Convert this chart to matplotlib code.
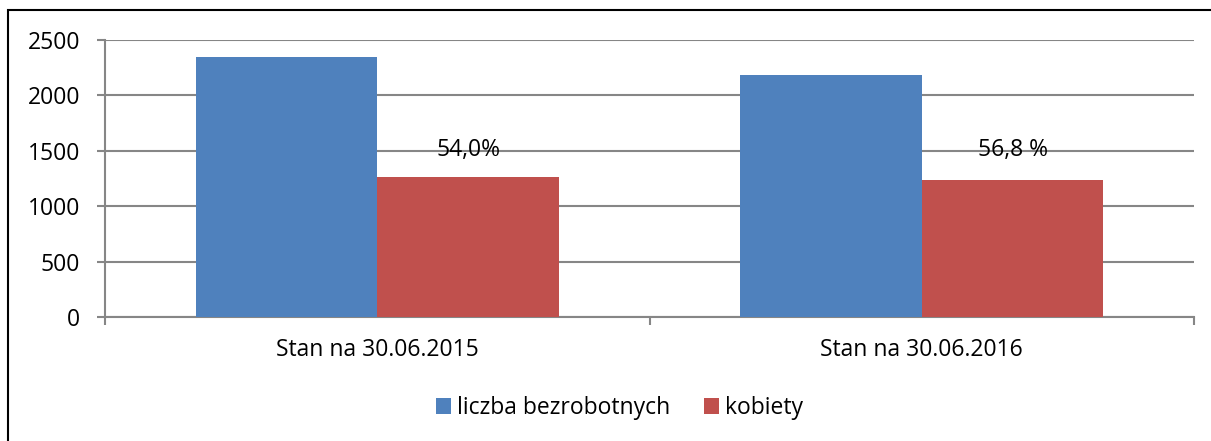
import matplotlib
matplotlib.use("Agg")
import matplotlib.pyplot as plt
import numpy as np
from matplotlib.patches import Rectangle

categories = ["Stan na 30.06.2015", "Stan na 30.06.2016"]
series_names = ["liczba bezrobotnych", "kobiety"]
bezrobotni = [2347, 2184]
kobiety = [1267, 1240]
pct_labels = ["54,0%", "56,8 %"]
yticks = [0, 500, 1000, 1500, 2000, 2500]

BLUE = "#4F81BD"
RED = "#C0504D"
GRID = "#868686"

plt.rcParams['font.family'] = ['Open Sans', 'DejaVu Sans']
FS = 16.5
FS_CAT = 16.5

W, H = 1211, 441
fig = plt.figure(figsize=(W / 100, H / 100), dpi=100)
ax = fig.add_axes([105 / W, 1 - 317.3 / H, (1194 - 105) / W, (317.3 - 40) / H])

x = np.arange(len(categories))
bw = 1 / 3
b1 = ax.bar(x - bw / 2, bezrobotni, width=bw, color=BLUE, label=series_names[0], zorder=3)
b2 = ax.bar(x + bw / 2, kobiety, width=bw, color=RED, label=series_names[1], zorder=3)

label_y = 1455
for xi, lab in zip(x, pct_labels):
    ax.text(xi + bw / 2, label_y, lab, ha="center", va="baseline", fontsize=FS, color="black", zorder=4)

ax.set_xlim(-0.5, 1.5)
ax.set_ylim(0, 2500)
ax.set_yticks(yticks)
ax.set_yticklabels([str(t) for t in yticks], fontsize=FS)
ax.set_xticks(x)
ax.set_xticklabels(categories, fontsize=FS_CAT)
ax.set_xticks([-0.5, 0.5, 1.5], minor=True)

ax.yaxis.grid(True, color=GRID, linewidth=1.5, zorder=0)
ax.set_axisbelow(True)
for s in ["top", "right"]:
    ax.spines[s].set_visible(False)
for s in ["left", "bottom"]:
    ax.spines[s].set_color(GRID)
    ax.spines[s].set_linewidth(1.5)
ax.tick_params(axis="y", which="major", length=6, width=1.5, color=GRID, pad=12)
ax.tick_params(axis="x", which="major", length=0, pad=15)
ax.tick_params(axis="x", which="minor", length=6, width=1.5, color=GRID)

fig.legend(handles=[b1, b2], labels=series_names, loc="center",
           bbox_to_anchor=(619.5 / W, 1 - 408 / H), ncol=2, frameon=False,
           fontsize=FS, handlelength=0.65, handleheight=0.65, handletextpad=0.26,
           columnspacing=1.45)

border = Rectangle((8 / W, -0.1), 1.2, (1 - 10 / H) + 0.1, transform=fig.transFigure,
                   fill=False, edgecolor="black", linewidth=1.5)
fig.patches.append(border)

fig.savefig("out.png", dpi=100)
